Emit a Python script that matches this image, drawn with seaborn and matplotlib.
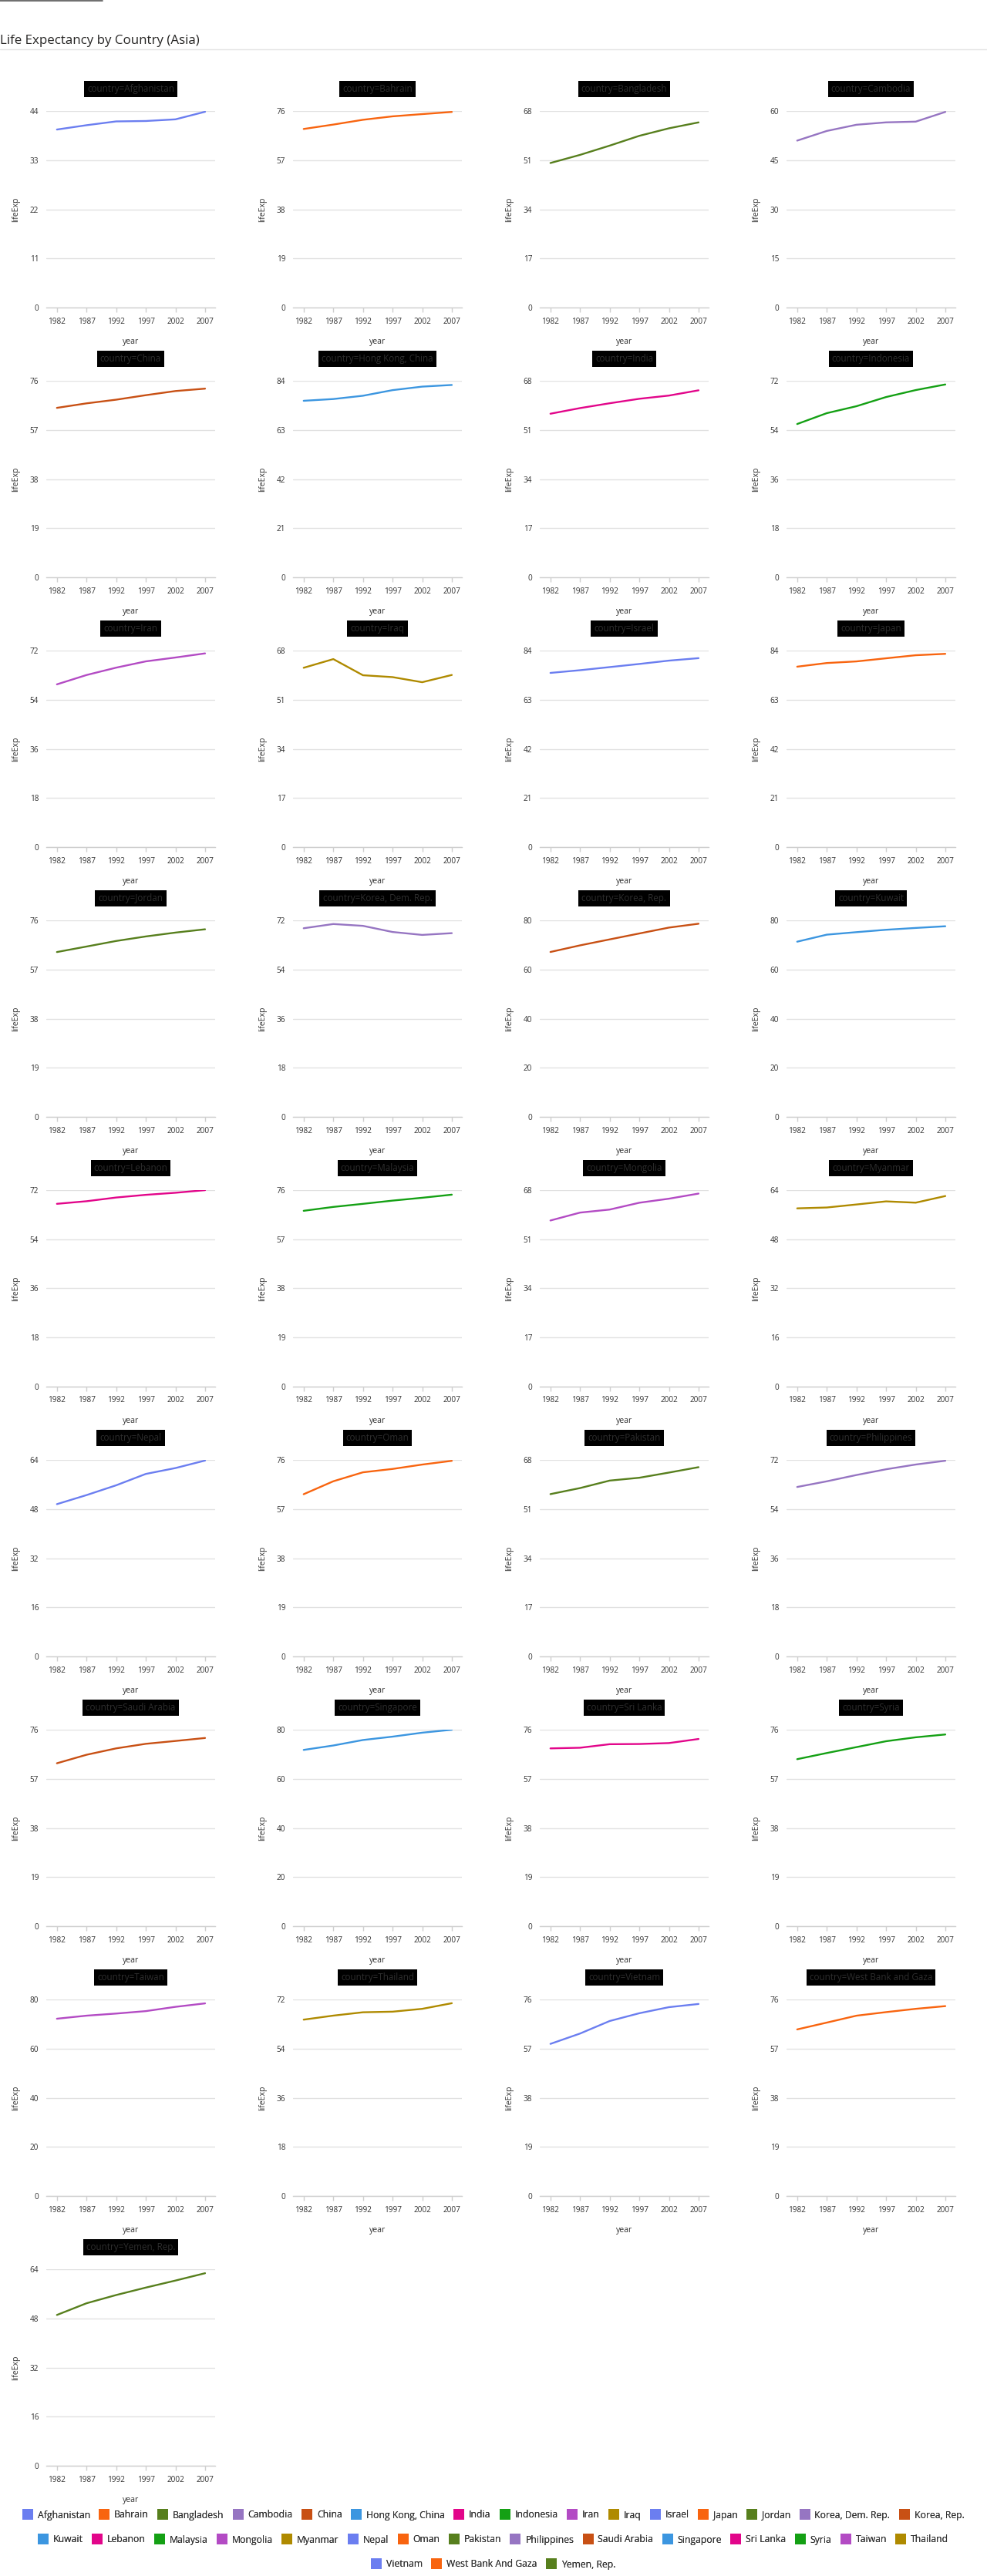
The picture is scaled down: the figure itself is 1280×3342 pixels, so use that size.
import numpy as np
import pandas as pd
import matplotlib
matplotlib.use("Agg")
import matplotlib.pyplot as plt
from matplotlib.lines import Line2D
import seaborn as sns

# datos (esperanza de vida, Asia)
years = [1982, 1987, 1992, 1997, 2002, 2007]

afghanistan = [39.85, 40.82, 41.67, 41.76, 42.13, 43.83]
bahrain = [69.05, 70.75, 72.60, 73.93, 74.80, 75.64]
bangladesh = [50.01, 52.82, 56.02, 59.41, 62.01, 64.06]
cambodia = [50.96, 53.91, 55.80, 56.53, 56.75, 59.72]
china = [65.53, 67.27, 68.69, 70.43, 72.03, 72.96]
hong_kong = [75.45, 76.20, 77.60, 80.00, 81.50, 82.21]
india = [56.60, 58.55, 60.22, 61.77, 62.88, 64.70]
indonesia = [56.16, 60.14, 62.68, 66.04, 68.59, 70.65]
iran = [59.62, 63.04, 65.74, 68.04, 69.45, 70.96]
iraq = [62.04, 65.04, 59.46, 58.81, 57.05, 59.55]
israel = [74.45, 75.60, 76.93, 78.27, 79.70, 80.75]
japan = [77.11, 78.67, 79.36, 80.69, 82.00, 82.60]
jordan = [63.74, 65.87, 68.02, 69.77, 71.26, 72.54]
korea_dem = [69.10, 70.65, 69.98, 67.73, 66.66, 67.30]
korea_rep = [67.12, 69.81, 72.24, 74.65, 77.05, 78.62]
kuwait = [71.31, 74.17, 75.19, 76.16, 76.90, 77.59]
lebanon = [66.98, 67.93, 69.29, 70.27, 71.03, 71.99]
malaysia = [68.00, 69.50, 70.69, 71.94, 73.04, 74.24]
mongolia = [57.49, 60.22, 61.27, 63.63, 65.03, 66.80]
myanmar = [58.06, 58.34, 59.32, 60.33, 59.91, 62.07]
nepal = [49.59, 52.54, 55.73, 59.43, 61.34, 63.79]
oman = [62.73, 67.73, 71.20, 72.50, 74.19, 75.64]
pakistan = [56.16, 58.25, 60.84, 61.82, 63.61, 65.48]
philippines = [62.08, 64.15, 66.46, 68.56, 70.30, 71.69]
saudi_arabia = [63.01, 66.30, 68.77, 70.53, 71.63, 72.78]
singapore = [71.76, 73.56, 75.79, 77.16, 78.77, 79.97]
sri_lanka = [68.76, 69.01, 70.38, 70.46, 70.82, 72.40]
syria = [64.59, 66.97, 69.25, 71.53, 73.05, 74.14]
taiwan = [72.16, 73.40, 74.26, 75.25, 76.99, 78.40]
thailand = [64.60, 66.08, 67.30, 67.52, 68.56, 70.62]
vietnam = [58.82, 62.82, 67.66, 70.67, 73.02, 74.25]
west_bank = [64.41, 67.05, 69.72, 71.10, 72.37, 73.42]
yemen = [49.11, 52.92, 55.60, 58.02, 60.31, 62.70]

countries = ["Afghanistan", "Bahrain", "Bangladesh", "Cambodia", "China",
             "Hong Kong, China", "India", "Indonesia", "Iran", "Iraq", "Israel",
             "Japan", "Jordan", "Korea, Dem. Rep.", "Korea, Rep.", "Kuwait",
             "Lebanon", "Malaysia", "Mongolia", "Myanmar", "Nepal", "Oman",
             "Pakistan", "Philippines", "Saudi Arabia", "Singapore", "Sri Lanka",
             "Syria", "Taiwan", "Thailand", "Vietnam", "West Bank and Gaza",
             "Yemen, Rep."]
series = [afghanistan, bahrain, bangladesh, cambodia, china, hong_kong, india,
          indonesia, iran, iraq, israel, japan, jordan, korea_dem, korea_rep,
          kuwait, lebanon, malaysia, mongolia, myanmar, nepal, oman, pakistan,
          philippines, saudi_arabia, singapore, sri_lanka, syria, taiwan,
          thailand, vietnam, west_bank, yemen]
# etiquetas de la leyenda (tal como aparecen)
legend_labels = countries[:31] + ["West Bank And Gaza", "Yemen, Rep."]

colores = ['#6B7EF0', '#F8640F', '#577F1D', '#9675C2', '#C85014',
           '#3C96E0', '#E2058A', '#14A014', '#B34BC4', '#AF8A00']
palette = {c: colores[i % len(colores)] for i, c in enumerate(countries)}

filas = []
for c, vals in zip(countries, series):
    for y, v in zip(years, vals):
        filas.append((c, y, v))
df = pd.DataFrame(filas, columns=["country", "year", "lifeExp"])

sns.set_style("white")
plt.rcParams['font.family'] = ['Open Sans', 'DejaVu Sans']

W, H = 1280, 3342
g = sns.relplot(data=df, x="year", y="lifeExp", col="country", col_wrap=4,
                hue="country", palette=palette, kind="line", legend=False,
                linewidth=1.7, height=3, aspect=0.8,
                facet_kws=dict(sharey=False, sharex=False))
fig = g.figure
fig.set_size_inches(W / 100, H / 100)
g.set_titles("")

txt = '#333333'
for i, c in enumerate(countries):
    ax = g.axes_dict[c]
    r, k = divmod(i, 4)
    left = 60 + 320 * k
    bottom = 399 + 350 * r
    ax.set_position([left / W, 1 - bottom / H, 219 / W, 255 / H])
    # escala y: maximo redondeado al multiplo de 4
    top = 4 * np.ceil(max(series[i]) / 4)
    ax.set_ylim(0, top)
    ax.set_yticks(np.linspace(0, top, 5))
    ax.set_yticklabels([str(int(round(t))) for t in np.linspace(0, top, 5)])
    ax.set_xlim(1980.2, 2008.7)
    ax.set_xticks(years)
    ax.grid(axis='y', color='#e1e1e1', linewidth=1.0)
    ax.grid(axis='x', visible=False)
    for s in ['top', 'right', 'left']:
        ax.spines[s].set_visible(False)
    ax.spines['bottom'].set_visible(True)
    ax.spines['bottom'].set_color('#cfcfcf')
    ax.spines['bottom'].set_linewidth(1.0)
    ax.tick_params(axis='x', length=4, width=1, color='#cfcfcf', pad=5,
                   labelsize=7.2, labelcolor=txt, bottom=True)
    ax.tick_params(axis='y', length=0, pad=7, labelsize=7.2, labelcolor=txt,
                   left=True)
    ax.set_xlabel("year", fontsize=7.6, color=txt, labelpad=11)
    ax.set_ylabel("lifeExp", fontsize=7.6, color=txt, labelpad=9)
    ax.text(0.5, 1.113, "country=" + c, transform=ax.transAxes,
            ha='center', va='center', fontsize=8.4, color='#2e2e2e',
            bbox=dict(facecolor='black', edgecolor='none',
                      boxstyle='square,pad=0.35'))

# titulo y lineas de cabecera
fig.text(0.0, 1 - 53 / H, "Life Expectancy by Country (Asia)", ha='left',
         va='center', fontsize=12.2, color='#252423')
fig.add_artist(Line2D([0, 1], [1 - 63.5 / H] * 2, color='#e3e3e3', lw=1))
fig.add_artist(Line2D([0, 133 / W], [1 - 0.8 / H] * 2, color='#555555', lw=1.2))

# leyenda en tres filas centradas
filas_leyenda = [range(0, 15), range(15, 30), range(30, 33)]
ys = [3263, 3295, 3327]
for idxs, yy in zip(filas_leyenda, ys):
    handles = [Line2D([], [], marker='s', linestyle='none', markersize=10,
                      markeredgewidth=0, color=palette[countries[j]])
               for j in idxs]
    labels = [legend_labels[j] for j in idxs]
    leg = fig.legend(handles, labels, loc='center', ncol=len(labels),
                     bbox_to_anchor=(0.5, 1 - yy / H), frameon=False,
                     fontsize=8.8, handlelength=1.0, handletextpad=0.55,
                     columnspacing=1.0, borderpad=0, borderaxespad=0)
    for t in leg.get_texts():
        t.set_color(txt)
    fig.add_artist(leg)

fig.savefig("out.png", dpi=100)
